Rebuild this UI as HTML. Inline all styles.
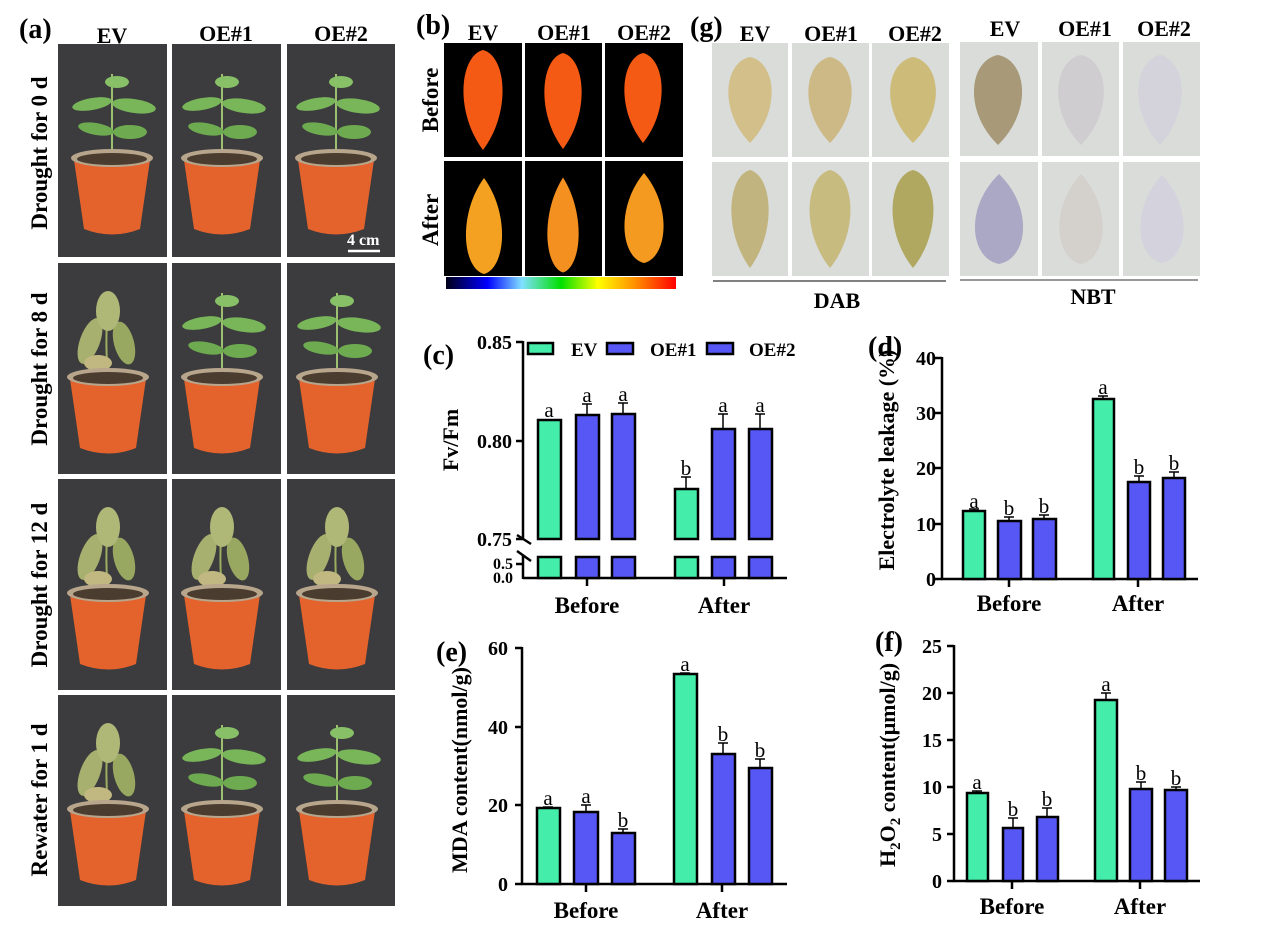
<!DOCTYPE html>
<html><head><meta charset="utf-8"><style>
html,body{margin:0;padding:0;background:#fff;}
svg{display:block;font-family:"Liberation Serif",serif;font-weight:bold;}
</style></head><body>
<svg width="1268" height="938" viewBox="0 0 1268 938" xmlns="http://www.w3.org/2000/svg">
<defs>
<linearGradient id="cb" x1="0" x2="1" y1="0" y2="0">
<stop offset="0" stop-color="#000018"/><stop offset="0.18" stop-color="#0000ff"/><stop offset="0.33" stop-color="#80e0ff"/><stop offset="0.5" stop-color="#00e000"/><stop offset="0.66" stop-color="#ffff00"/><stop offset="0.82" stop-color="#ff9000"/><stop offset="1" stop-color="#ff0000"/>
</linearGradient>
<path id="leaf" d="M0,-50 C36,-44 44,12 0,50 C-44,12 -36,-44 0,-50Z"/>
<g id="pot">
<path d="M12,116 L22,185 Q50,196 78,185 L88,116Z" fill="#e4622c"/>
<ellipse cx="50" cy="114" rx="41" ry="9" fill="#b7a58c"/>
<ellipse cx="50" cy="115" rx="35" ry="6" fill="#4a3d30"/>
</g>
<g id="healthy">
<path d="M50,113 L50,30" stroke="#9cc070" stroke-width="2"/>
<ellipse cx="30" cy="60" rx="20" ry="6" fill="#79b65a" transform="rotate(-10 30 60)"/>
<ellipse cx="72" cy="62" rx="22" ry="7" fill="#79b65a" transform="rotate(8 72 62)"/>
<ellipse cx="34" cy="85" rx="18" ry="6" fill="#6eaa50" transform="rotate(10 34 85)"/>
<ellipse cx="68" cy="88" rx="17" ry="7" fill="#6eaa50"/>
<ellipse cx="55" cy="38" rx="12" ry="6" fill="#88c068"/>
</g>
<g id="wilt">
<path d="M50,113 Q46,70 52,30" stroke="#9cae60" stroke-width="2" fill="none"/>
<ellipse cx="32" cy="78" rx="10" ry="24" fill="#a8b070" transform="rotate(20 32 78)"/>
<ellipse cx="66" cy="80" rx="10" ry="22" fill="#98a860" transform="rotate(-15 66 80)"/>
<ellipse cx="50" cy="48" rx="12" ry="20" fill="#b0b878"/>
<ellipse cx="40" cy="100" rx="14" ry="8" fill="#c0b880"/>
</g>
</defs>

<!-- Panel a -->
<text x="19" y="38" font-size="28">(a)</text>
<text x="112" y="43" font-size="22" text-anchor="middle">EV</text>
<text x="226" y="41" font-size="22" text-anchor="middle">OE#1</text>
<text x="341" y="41" font-size="22" text-anchor="middle">OE#2</text>
<g fill="#3c3c3e">
<rect x="58" y="44" width="109" height="213"/><rect x="172" y="44" width="109" height="213"/><rect x="287" y="44" width="108" height="213"/>
<rect x="58" y="263" width="109" height="211"/><rect x="172" y="263" width="109" height="211"/><rect x="287" y="263" width="108" height="211"/>
<rect x="58" y="479" width="109" height="211"/><rect x="172" y="479" width="109" height="211"/><rect x="287" y="479" width="108" height="211"/>
<rect x="58" y="695" width="109" height="211"/><rect x="172" y="695" width="109" height="211"/><rect x="287" y="695" width="108" height="211"/>
</g>
<use href="#healthy" transform="translate(62,44)"/><use href="#pot" transform="translate(62,44)"/>
<use href="#healthy" transform="translate(172,44)"/><use href="#pot" transform="translate(172,44)"/>
<use href="#healthy" transform="translate(286,44)"/><use href="#pot" transform="translate(286,44)"/>
<use href="#wilt" transform="translate(58,263)"/><use href="#pot" transform="translate(58,263)"/>
<use href="#healthy" transform="translate(172,263)"/><use href="#pot" transform="translate(172,263)"/>
<use href="#healthy" transform="translate(287,263)"/><use href="#pot" transform="translate(287,263)"/>
<use href="#wilt" transform="translate(58,479)"/><use href="#pot" transform="translate(58,479)"/>
<use href="#wilt" transform="translate(172,479)"/><use href="#pot" transform="translate(172,479)"/>
<use href="#wilt" transform="translate(287,479)"/><use href="#pot" transform="translate(287,479)"/>
<use href="#wilt" transform="translate(58,695)"/><use href="#pot" transform="translate(58,695)"/>
<use href="#healthy" transform="translate(172,695)"/><use href="#pot" transform="translate(172,695)"/>
<use href="#healthy" transform="translate(287,695)"/><use href="#pot" transform="translate(287,695)"/>
<text x="347" y="245" font-size="16" fill="#fff">4 cm</text>
<line x1="348" y1="251" x2="380" y2="251" stroke="#fff" stroke-width="2.5"/>
<g font-size="23" text-anchor="middle">
<text transform="translate(47,153) rotate(-90)">Drought for 0 d</text>
<text transform="translate(47,369) rotate(-90)">Drought for 8 d</text>
<text transform="translate(47,585) rotate(-90)">Drought for 12 d</text>
<text transform="translate(47,800) rotate(-90)">Rewater for 1 d</text>
</g>

<!-- Panel b -->
<text x="416" y="34" font-size="28">(b)</text>
<text x="483" y="40" font-size="22" text-anchor="middle">EV</text>
<text x="564" y="40" font-size="22" text-anchor="middle">OE#1</text>
<text x="644" y="40" font-size="22" text-anchor="middle">OE#2</text>
<g fill="#000">
<rect x="444" y="43" width="78" height="114"/><rect x="525" y="43" width="77" height="114"/><rect x="605" y="43" width="78" height="114"/>
<rect x="444" y="161" width="78" height="115"/><rect x="525" y="161" width="77" height="115"/><rect x="605" y="161" width="78" height="115"/>
</g>
<use href="#leaf" fill="#f45a14" transform="translate(483,100) scale(0.65,1.0)"/>
<use href="#leaf" fill="#f45a14" transform="translate(563,101) scale(0.62,0.96)"/>
<use href="#leaf" fill="#f45a14" transform="translate(643,98) scale(0.62,0.9)"/>
<use href="#leaf" fill="#f4a020" transform="translate(484,226) rotate(180) scale(0.6,0.96)"/>
<use href="#leaf" fill="#f49020" transform="translate(563,225) rotate(180) scale(0.52,0.95)"/>
<use href="#leaf" fill="#f49a20" transform="translate(644,218) rotate(180) scale(0.65,0.9)"/>
<rect x="446" y="277" width="230" height="12" fill="url(#cb)"/>
<g font-size="23" text-anchor="middle">
<text transform="translate(438,100) rotate(-90)">Before</text>
<text transform="translate(438,220) rotate(-90)">After</text>
</g>

<!-- Panel g -->
<text x="690" y="36" font-size="28">(g)</text>
<g font-size="22" text-anchor="middle">
<text x="755" y="41">EV</text><text x="831" y="41">OE#1</text><text x="915" y="41">OE#2</text>
<text x="1005" y="36">EV</text><text x="1085" y="36">OE#1</text><text x="1164" y="36">OE#2</text>
</g>
<g fill="#d9dcd9">
<rect x="712" y="43" width="76" height="114"/><rect x="792" y="43" width="77" height="114"/><rect x="872" y="43" width="77" height="114"/>
<rect x="960" y="42" width="78" height="114"/><rect x="1042" y="42" width="77" height="114"/><rect x="1123" y="42" width="77" height="114"/>
<rect x="712" y="162" width="76" height="114"/><rect x="792" y="162" width="77" height="114"/><rect x="872" y="162" width="77" height="114"/>
<rect x="960" y="162" width="78" height="114"/><rect x="1042" y="162" width="77" height="114"/><rect x="1123" y="162" width="77" height="114"/>
</g>
<use href="#leaf" fill="#d2bf8a" transform="translate(750,100) scale(0.72,0.86)"/>
<use href="#leaf" fill="#cdb985" transform="translate(830,100) scale(0.72,0.86)"/>
<use href="#leaf" fill="#cdbb7a" transform="translate(913,100) scale(0.76,0.86)"/>
<use href="#leaf" fill="#a89a78" transform="translate(998,100) scale(0.8,0.9)"/>
<use href="#leaf" fill="#d0cdd0" transform="translate(1081,100) scale(0.76,0.9)"/>
<use href="#leaf" fill="#d4d2da" transform="translate(1160,100) scale(0.72,0.9)"/>
<use href="#leaf" fill="#c2b47e" transform="translate(750,219) scale(0.62,0.98)"/>
<use href="#leaf" fill="#c8bb80" transform="translate(830,219) scale(0.68,0.98)"/>
<use href="#leaf" fill="#b0a860" transform="translate(913,219) scale(0.68,0.98)"/>
<use href="#leaf" fill="#aaa8c4" transform="translate(999,219) rotate(180) scale(0.8,0.9)"/>
<use href="#leaf" fill="#d4d0cc" transform="translate(1081,219) rotate(180) scale(0.72,0.9)"/>
<use href="#leaf" fill="#d4d2dc" transform="translate(1162,219) rotate(180) scale(0.72,0.88)"/>
<line x1="713" y1="281" x2="946" y2="281" stroke="#000" stroke-width="1"/>
<line x1="960" y1="280" x2="1198" y2="280" stroke="#777" stroke-width="1.5"/>
<text x="837" y="308" font-size="22" text-anchor="middle">DAB</text>
<text x="1093" y="304" font-size="22" text-anchor="middle">NBT</text>

<!-- Panel c -->
<text x="423" y="364" font-size="28">(c)</text>
<g stroke="#000" stroke-width="2.5" fill="none">
<line x1="523" y1="341" x2="523" y2="538"/><line x1="523" y1="555" x2="523" y2="579"/>
<line x1="523" y1="578" x2="787" y2="578"/>
<line x1="516" y1="342" x2="523" y2="342"/><line x1="516" y1="441" x2="523" y2="441"/><line x1="516" y1="539" x2="523" y2="539"/>
<line x1="516" y1="564" x2="523" y2="564"/>
<line x1="517" y1="535" x2="531" y2="544"/><line x1="517" y1="551" x2="531" y2="561"/>
<line x1="587" y1="578" x2="587" y2="586"/><line x1="724" y1="578" x2="724" y2="586"/>
</g>
<g font-size="20" text-anchor="end">
<text x="512" y="349">0.85</text><text x="512" y="448">0.80</text><text x="512" y="546">0.75</text>
</g>
<g font-size="16" text-anchor="end"><text x="513" y="569">0.5</text><text x="513" y="583">0.0</text></g>
<text transform="translate(458,440) rotate(-90)" font-size="22" text-anchor="middle">Fv/Fm</text>
<g stroke="#000" stroke-width="2.5">
<rect x="538" y="420" width="23" height="119" fill="#44eeaa"/><rect x="538" y="557" width="23" height="21" fill="#44eeaa"/>
<rect x="576" y="415" width="23" height="124" fill="#5757f5"/><rect x="576" y="557" width="23" height="21" fill="#5757f5"/>
<rect x="612" y="414" width="23" height="125" fill="#5757f5"/><rect x="612" y="557" width="23" height="21" fill="#5757f5"/>
<rect x="675" y="489" width="23" height="50" fill="#44eeaa"/><rect x="675" y="557" width="23" height="21" fill="#44eeaa"/>
<rect x="712" y="429" width="23" height="110" fill="#5757f5"/><rect x="712" y="557" width="23" height="21" fill="#5757f5"/>
<rect x="749" y="429" width="23" height="110" fill="#5757f5"/><rect x="749" y="557" width="23" height="21" fill="#5757f5"/>
</g>
<g stroke="#000" stroke-width="1.5">
<path d="M587,415V404M582,404H592M623,414V403M618,403H628M686,489V477M681,477H691M723,429V414M718,414H728M760,429V414M755,414H765"/>
</g>
<g font-size="21" font-weight="normal" text-anchor="middle">
<text x="549" y="417">a</text><text x="587" y="402">a</text><text x="623" y="401">a</text>
<text x="686" y="475">b</text><text x="723" y="412">a</text><text x="760" y="412">a</text>
</g>
<g stroke="#000" stroke-width="2.5">
<rect x="528" y="343" width="25" height="11" fill="#44eeaa"/>
<rect x="607" y="343" width="26" height="11" fill="#5757f5"/>
<rect x="707" y="343" width="26" height="11" fill="#5757f5"/>
</g>
<g font-size="19"><text x="571" y="356">EV</text><text x="650" y="356">OE#1</text><text x="749" y="356">OE#2</text></g>
<g font-size="23" text-anchor="middle"><text x="587" y="613">Before</text><text x="724" y="613">After</text></g>

<!-- Panel d -->
<text x="868" y="356" font-size="28">(d)</text>
<g stroke="#000" stroke-width="2.5" fill="none">
<line x1="942" y1="357" x2="942" y2="580"/><line x1="941" y1="579" x2="1198" y2="579"/>
<path d="M935,358H942M935,413H942M935,468H942M935,524H942M935,579H942M1009,579V587M1138,579V587"/>
</g>
<g font-size="20" text-anchor="end">
<text x="936" y="365">40</text><text x="936" y="420">30</text><text x="936" y="475">20</text><text x="936" y="531">10</text><text x="936" y="586">0</text>
</g>
<text transform="translate(894,460) rotate(-90)" font-size="22" text-anchor="middle">Electrolyte leakage (%)</text>
<g stroke="#000" stroke-width="2.5">
<rect x="963" y="511" width="22" height="68" fill="#44eeaa"/>
<rect x="998" y="521" width="23" height="58" fill="#5757f5"/>
<rect x="1033" y="519" width="23" height="60" fill="#5757f5"/>
<rect x="1093" y="399" width="21" height="180" fill="#44eeaa"/>
<rect x="1128" y="482" width="22" height="97" fill="#5757f5"/>
<rect x="1163" y="478" width="22" height="101" fill="#5757f5"/>
</g>
<g stroke="#000" stroke-width="1.5"><path d="M974,511V509M969,509H979M1009,521V517M1004,517H1014M1044,519V515M1039,515H1049M1103,399V396M1098,396H1108M1139,482V476M1134,476H1144M1174,478V472M1169,472H1179"/></g>
<g font-size="21" font-weight="normal" text-anchor="middle">
<text x="974" y="508">a</text><text x="1009" y="515">b</text><text x="1044" y="513">b</text>
<text x="1103" y="394">a</text><text x="1139" y="474">b</text><text x="1174" y="470">b</text>
</g>
<g font-size="23" text-anchor="middle"><text x="1009" y="611">Before</text><text x="1138" y="611">After</text></g>

<!-- Panel e -->
<text x="436" y="661" font-size="28">(e)</text>
<g stroke="#000" stroke-width="2.5" fill="none">
<line x1="522" y1="647" x2="522" y2="885"/><line x1="521" y1="884" x2="787" y2="884"/>
<path d="M515,648H522M515,727H522M515,805H522M515,884H522M586,884V892M722,884V892"/>
</g>
<g font-size="20" text-anchor="end">
<text x="508" y="655">60</text><text x="508" y="734">40</text><text x="508" y="812">20</text><text x="508" y="891">0</text>
</g>
<text transform="translate(467,770) rotate(-90)" font-size="22" text-anchor="middle">MDA content(nmol/g)</text>
<g stroke="#000" stroke-width="2.5">
<rect x="537" y="808" width="23" height="76" fill="#44eeaa"/>
<rect x="574" y="812" width="24" height="72" fill="#5757f5"/>
<rect x="612" y="833" width="23" height="51" fill="#5757f5"/>
<rect x="674" y="674" width="23" height="210" fill="#44eeaa"/>
<rect x="712" y="754" width="23" height="130" fill="#5757f5"/>
<rect x="749" y="768" width="23" height="116" fill="#5757f5"/>
</g>
<g stroke="#000" stroke-width="1.5"><path d="M548,808V807M543,807H553M586,812V805M581,805H591M623,833V829M618,829H628M685,674V673M680,673H690M723,754V743M718,743H728M760,768V759M755,759H765"/></g>
<g font-size="21" font-weight="normal" text-anchor="middle">
<text x="548" y="805">a</text><text x="586" y="803">a</text><text x="623" y="827">b</text>
<text x="685" y="671">a</text><text x="723" y="741">b</text><text x="760" y="757">b</text>
</g>
<g font-size="23" text-anchor="middle"><text x="586" y="918">Before</text><text x="722" y="918">After</text></g>

<!-- Panel f -->
<text x="875" y="651" font-size="28">(f)</text>
<g stroke="#000" stroke-width="2.5" fill="none">
<line x1="954" y1="645" x2="954" y2="882"/><line x1="953" y1="881" x2="1200" y2="881"/>
<path d="M947,646H954M947,693H954M947,740H954M947,787H954M947,834H954M947,881H954M1012,881V889M1140,881V889"/>
</g>
<g font-size="20" text-anchor="end">
<text x="942" y="653">25</text><text x="942" y="700">20</text><text x="942" y="747">15</text><text x="942" y="794">10</text><text x="942" y="841">5</text><text x="942" y="888">0</text>
</g>
<text transform="translate(895,765) rotate(-90)" font-size="22" text-anchor="middle">H<tspan font-size="15" dy="5">2</tspan><tspan dy="-5">O</tspan><tspan font-size="15" dy="5">2</tspan><tspan dy="-5"> content(μmol/g)</tspan></text>
<g stroke="#000" stroke-width="2.5">
<rect x="967" y="793" width="21" height="88" fill="#44eeaa"/>
<rect x="1003" y="828" width="20" height="53" fill="#5757f5"/>
<rect x="1037" y="817" width="21" height="64" fill="#5757f5"/>
<rect x="1095" y="700" width="22" height="181" fill="#44eeaa"/>
<rect x="1130" y="789" width="22" height="92" fill="#5757f5"/>
<rect x="1165" y="790" width="22" height="91" fill="#5757f5"/>
</g>
<g stroke="#000" stroke-width="1.5"><path d="M977,793V791M972,791H982M1013,828V818M1008,818H1018M1047,817V808M1042,808H1052M1106,700V693M1101,693H1111M1141,789V782M1136,782H1146M1176,790V787M1171,787H1181"/></g>
<g font-size="21" font-weight="normal" text-anchor="middle">
<text x="977" y="789">a</text><text x="1013" y="816">b</text><text x="1047" y="806">b</text>
<text x="1106" y="691">a</text><text x="1141" y="780">b</text><text x="1176" y="785">b</text>
</g>
<g font-size="23" text-anchor="middle"><text x="1012" y="914">Before</text><text x="1140" y="914">After</text></g>
</svg>
</body></html>
